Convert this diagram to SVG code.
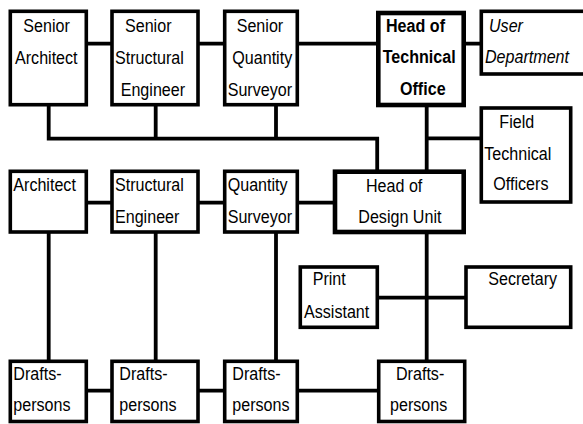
<svg xmlns="http://www.w3.org/2000/svg" width="583" height="424" viewBox="0 0 583 424">
<style>
.b{fill:#fff;stroke:#000;stroke-width:3.6}
.bb{fill:#fff;stroke:#000;stroke-width:4.6}
.c{fill:none;stroke:#000;stroke-width:3.8;stroke-linejoin:miter;stroke-linecap:square}
text{font-family:"Liberation Sans",Arial,sans-serif;font-size:18.5px;fill:#000}
.bo{font-weight:bold}
.it{font-style:italic}
</style>
<rect width="583" height="424" fill="#fff"/>
<g id="connectors">
<path class="c" d="M86.3,43.7H112M198,43.7H224.7M297.3,43.7H378.3M463.7,43.7H481.3"/>
<path class="c" d="M48.7,104.7V138.7H377.2V171.7M155.7,104.7V138.7M276,104.7V138.7"/>
<path class="c" d="M426.7,105V171.7M426.7,138.3H481.3"/>
<path class="c" d="M86.3,202.7H112M198,202.7H224.7M297.3,202.7H335"/>
<path class="c" d="M48.7,232V361.3M155.7,232V361.3M276,232V361.3M426.7,232V361.3"/>
<path class="c" d="M377.3,297.7H466"/>
<path class="c" d="M86.3,390.7H112M198,390.7H224.7M297.3,390.7H378.7"/>
</g>
<g id="senior-architect"><rect class="b" x="10.3" y="11.3" width="76" height="93.4"/>
<text transform="matrix(0.87 0 0 1 23.3 32.3)">Senior</text>
<text transform="matrix(0.87 0 0 1 15 64)">Architect</text></g>
<g id="senior-structural-engineer"><rect class="b" x="112" y="11.3" width="86" height="93.4"/>
<text transform="matrix(0.87 0 0 1 125 32.3)">Senior</text>
<text transform="matrix(0.87 0 0 1 115 64)">Structural</text>
<text transform="matrix(0.87 0 0 1 120.7 95.5)">Engineer</text></g>
<g id="senior-quantity-surveyor"><rect class="b" x="224.7" y="11.3" width="72.6" height="93.4"/>
<text transform="matrix(0.87 0 0 1 236.7 32.3)">Senior</text>
<text transform="matrix(0.87 0 0 1 232.3 64)">Quantity</text>
<text transform="matrix(0.87 0 0 1 227.7 95.5)">Surveyor</text></g>
<g id="head-technical-office"><rect class="bb" x="378.3" y="13" width="85.4" height="92"/>
<text class="bo" transform="matrix(0.87 0 0 1 386 31.7)">Head of</text>
<text class="bo" transform="matrix(0.87 0 0 1 382.7 63)">Technical</text>
<text class="bo" transform="matrix(0.87 0 0 1 400 95)">Office</text></g>
<g id="user-department"><rect class="b" x="481.3" y="11.3" width="120" height="62.7"/>
<text class="it" transform="matrix(0.87 0 0 1 489 32)">User</text>
<text class="it" transform="matrix(0.87 0 0 1 485 63)">Department</text></g>
<g id="field-technical-officers"><rect class="b" x="481.3" y="108" width="89.4" height="94"/>
<text transform="matrix(0.87 0 0 1 499.3 128.3)">Field</text>
<text transform="matrix(0.87 0 0 1 484.3 160)">Technical</text>
<text transform="matrix(0.87 0 0 1 493.3 190)">Officers</text></g>
<g id="architect"><rect class="b" x="10.3" y="171.3" width="76" height="60.7"/>
<text transform="matrix(0.87 0 0 1 13.3 190.7)">Architect</text></g>
<g id="structural-engineer"><rect class="b" x="112" y="171.3" width="86" height="60.7"/>
<text transform="matrix(0.87 0 0 1 115 190.7)">Structural</text>
<text transform="matrix(0.87 0 0 1 115 223.3)">Engineer</text></g>
<g id="quantity-surveyor"><rect class="b" x="224.7" y="171.3" width="72.6" height="60.7"/>
<text transform="matrix(0.87 0 0 1 227.7 190.7)">Quantity</text>
<text transform="matrix(0.87 0 0 1 227.7 223.3)">Surveyor</text></g>
<g id="head-design-unit"><rect class="bb" x="335" y="171.7" width="128.7" height="60.3"/>
<text transform="matrix(0.87 0 0 1 366 191.7)">Head of</text>
<text transform="matrix(0.87 0 0 1 358.3 223.3)">Design Unit</text></g>
<g id="print-assistant"><rect class="b" x="300.3" y="267" width="77" height="60.3"/>
<text transform="matrix(0.87 0 0 1 312.7 285)">Print</text>
<text transform="matrix(0.87 0 0 1 304 317.7)">Assistant</text></g>
<g id="secretary"><rect class="b" x="466" y="267" width="104.7" height="60.3"/>
<text transform="matrix(0.87 0 0 1 488.3 285)">Secretary</text></g>
<g id="drafts-1"><rect class="b" x="10.3" y="361.3" width="76" height="60.2"/>
<text transform="matrix(0.87 0 0 1 13.3 380)">Drafts-</text>
<text transform="matrix(0.87 0 0 1 13.3 410.7)">persons</text></g>
<g id="drafts-2"><rect class="b" x="112" y="361.3" width="86" height="60.2"/>
<text transform="matrix(0.87 0 0 1 119.3 380)">Drafts-</text>
<text transform="matrix(0.87 0 0 1 119.3 410.7)">persons</text></g>
<g id="drafts-3"><rect class="b" x="224.7" y="361.3" width="72.6" height="60.2"/>
<text transform="matrix(0.87 0 0 1 232.3 380)">Drafts-</text>
<text transform="matrix(0.87 0 0 1 232.3 410.7)">persons</text></g>
<g id="drafts-4"><rect class="b" x="378.7" y="361.3" width="86" height="60.2"/>
<text transform="matrix(0.87 0 0 1 396 380)">Drafts-</text>
<text transform="matrix(0.87 0 0 1 390 410.7)">persons</text></g>
</svg>
